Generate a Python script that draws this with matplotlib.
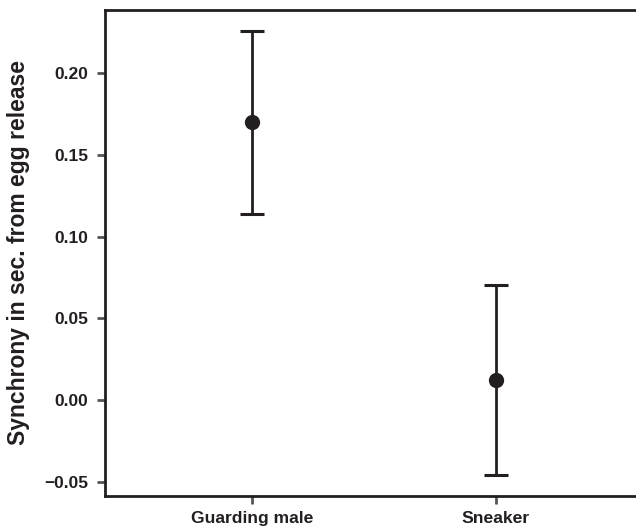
import numpy as np
import matplotlib.pyplot as plt

plt.rcParams['font.family'] = ['Liberation Sans', 'DejaVu Sans']

groups = ['Guarding male', 'Sneaker']
means = [0.170, 0.0122]
errors = [0.056, 0.058]

ink = '#231f20'

fig = plt.figure(figsize=(6.36, 5.28), dpi=100)
ax = fig.add_axes([0.165, 0.0606, 0.835, 0.9205])

x = np.arange(len(groups))
ax.errorbar(x, means, yerr=errors, fmt='o', color=ink, ecolor=ink,
            markersize=10, elinewidth=2, capsize=8.5, capthick=2.2)

ax.set_xlim(-0.602, 1.574)
ax.set_ylim(-0.0586, 0.2386)
ax.set_yticks([-0.05, 0.0, 0.05, 0.10, 0.15, 0.20])
ax.set_yticklabels(['\u22120.05', '0.00', '0.05', '0.10', '0.15', '0.20'])
ax.set_xticks(x)
ax.set_xticklabels(groups)

for lab in ax.get_xticklabels() + ax.get_yticklabels():
    lab.set_fontweight('bold')
    lab.set_color(ink)
ax.tick_params(axis='y', labelsize=12.5, length=6, width=2, color='#555555', pad=6)
ax.tick_params(axis='x', labelsize=12.6, length=6, width=2, color='#555555', pad=5)

ax.set_ylabel('Synchrony in sec. from egg release', fontsize=16.5, fontweight='bold',
              color=ink, labelpad=10)

ax.spines['right'].set_visible(False)
for s in ['left', 'top', 'bottom']:
    ax.spines[s].set_linewidth(2)
    ax.spines[s].set_color(ink)

fig.savefig('out.png', dpi=100)
